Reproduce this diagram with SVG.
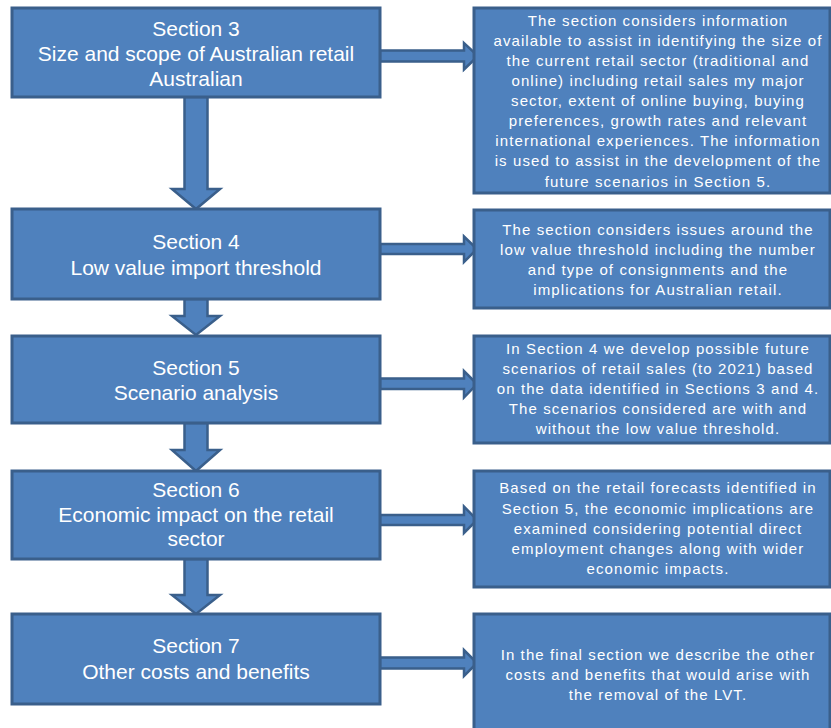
<svg xmlns="http://www.w3.org/2000/svg" width="831" height="728" viewBox="0 0 831 728">
<style>
.box{fill:#4F81BD;stroke:#3A5F8B;stroke-width:3}
.arr{fill:#4F81BD;stroke:#3A5F8B;stroke-width:2.5;stroke-linejoin:miter}
.lt{font-family:"Liberation Sans",Arial,sans-serif;font-size:21px;fill:#FFFFFF;text-anchor:middle}
.rt{font-family:"Liberation Sans",Arial,sans-serif;font-size:15px;letter-spacing:1.1px;fill:#FFFFFF;text-anchor:middle}
</style>
<rect width="831" height="728" fill="#FFFFFF"/>
<g id="connectors">
<polygon class="arr" points="184.5,97 207.5,97 207.5,189 220,189 196,209 172,189 184.5,189"/>
<polygon class="arr" points="184.5,299 207.5,299 207.5,316 220,316 196,335 172,316 184.5,316"/>
<polygon class="arr" points="184.5,423 207.5,423 207.5,450 220,450 196,471 172,450 184.5,450"/>
<polygon class="arr" points="184.5,559 207.5,559 207.5,595 220,595 196,614 172,595 184.5,595"/>
<polygon class="arr" points="380,50.5 464,50.5 464,43 478,56 464,69.5 464,61.5 380,61.5"/>
<polygon class="arr" points="380,244 464,244 464,236.5 477,249 464,262 464,254 380,254"/>
<polygon class="arr" points="380,378.5 464,378.5 464,371 477,384 464,397.5 464,389 380,389"/>
<polygon class="arr" points="380,515 464,515 464,506.5 477,520 464,533 464,525 380,525"/>
<polygon class="arr" points="380,657.5 464,657.5 464,650 477,663 464,676 464,668.5 380,668.5"/>
</g>
<g id="section3">
<rect class="box" x="12" y="8" width="368" height="89"/>
<text class="lt" x="196" y="36">Section 3</text>
<text class="lt" x="196" y="61">Size and scope of Australian retail</text>
<text class="lt" x="196" y="86">Australian</text>
</g>
<g id="section4">
<rect class="box" x="12" y="209" width="368" height="90"/>
<text class="lt" x="196" y="249">Section 4</text>
<text class="lt" x="196" y="275">Low value import threshold</text>
</g>
<g id="section5">
<rect class="box" x="12" y="336" width="368" height="87"/>
<text class="lt" x="196" y="375">Section 5</text>
<text class="lt" x="196" y="400">Scenario analysis</text>
</g>
<g id="section6">
<rect class="box" x="12" y="471" width="368" height="88"/>
<text class="lt" x="196" y="497">Section 6</text>
<text class="lt" x="196" y="522">Economic impact on the retail</text>
<text class="lt" x="196" y="546">sector</text>
</g>
<g id="section7">
<rect class="box" x="12" y="614" width="368" height="90"/>
<text class="lt" x="196" y="653">Section 7</text>
<text class="lt" x="196" y="679">Other costs and benefits</text>
</g>
<g id="desc3">
<rect class="box" x="474" y="8" width="356" height="185"/>
<text class="rt" x="658" y="26">The section considers information</text>
<text class="rt" x="658" y="46">available to assist in identifying the size of</text>
<text class="rt" x="658" y="66">the current retail sector (traditional and</text>
<text class="rt" x="658" y="86">online) including retail sales my major</text>
<text class="rt" x="658" y="106">sector, extent of online buying, buying</text>
<text class="rt" x="658" y="126">preferences, growth rates and relevant</text>
<text class="rt" x="658" y="146">international experiences. The information</text>
<text class="rt" x="658" y="166">is used to assist in the development of the</text>
<text class="rt" x="658" y="187">future scenarios in Section 5.</text>
</g>
<g id="desc4">
<rect class="box" x="474" y="210" width="356" height="98"/>
<text class="rt" x="658" y="235">The section considers issues around the</text>
<text class="rt" x="658" y="255">low value threshold including the number</text>
<text class="rt" x="658" y="275">and type of consignments and the</text>
<text class="rt" x="658" y="295">implications for Australian retail.</text>
</g>
<g id="desc5">
<rect class="box" x="474" y="336" width="356" height="107"/>
<text class="rt" x="658" y="354">In Section 4 we develop possible future</text>
<text class="rt" x="658" y="374">scenarios of retail sales (to 2021) based</text>
<text class="rt" x="658" y="394">on the data identified in Sections 3 and 4.</text>
<text class="rt" x="658" y="414">The scenarios considered are with and</text>
<text class="rt" x="658" y="434">without the low value threshold.</text>
</g>
<g id="desc6">
<rect class="box" x="474" y="471" width="356" height="116"/>
<text class="rt" x="658" y="493">Based on the retail forecasts identified in</text>
<text class="rt" x="658" y="514">Section 5, the economic implications are</text>
<text class="rt" x="658" y="534">examined considering potential direct</text>
<text class="rt" x="658" y="554">employment changes along with wider</text>
<text class="rt" x="658" y="574">economic impacts.</text>
</g>
<g id="desc7">
<rect class="box" x="474" y="614" width="356" height="130"/>
<text class="rt" x="658" y="660">In the final section we describe the other</text>
<text class="rt" x="658" y="680">costs and benefits that would arise with</text>
<text class="rt" x="658" y="700">the removal of the LVT.</text>
</g>
</svg>
